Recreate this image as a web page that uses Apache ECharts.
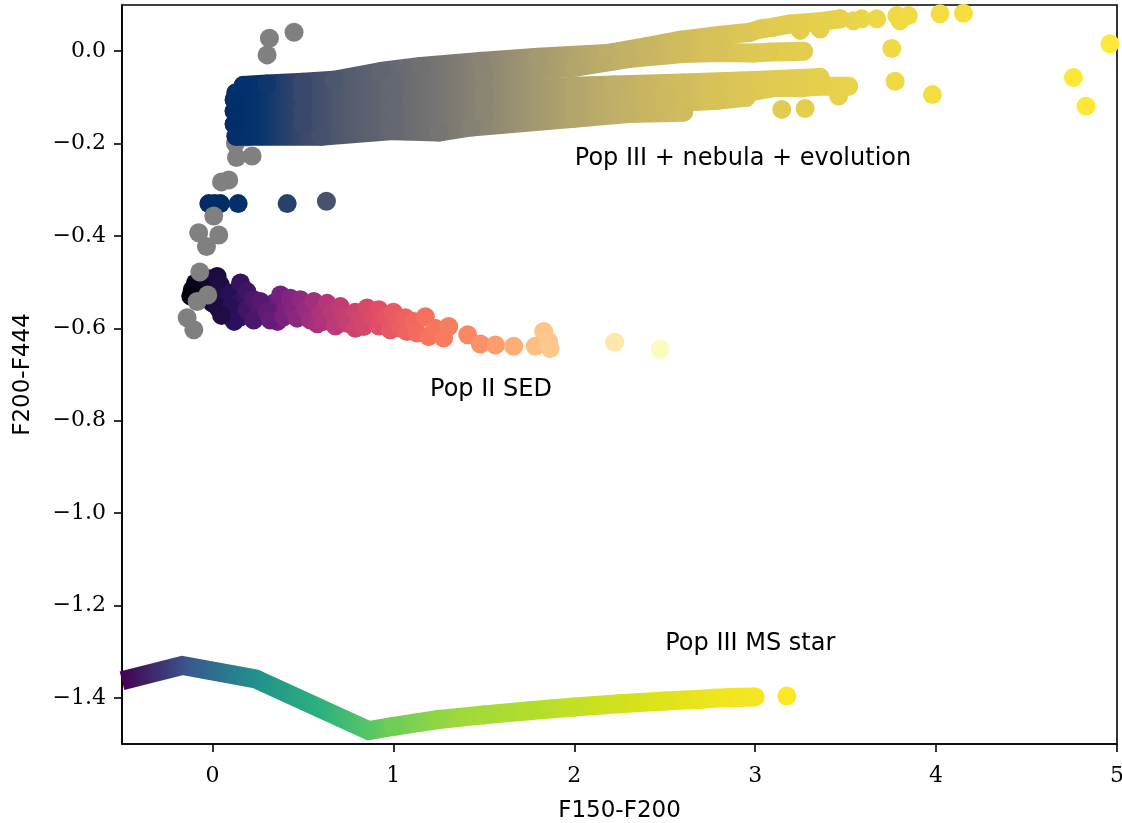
<!DOCTYPE html>
<html>
<head>
<meta charset="utf-8">
<script src="https://cdn.jsdelivr.net/npm/echarts@6.0.0/dist/echarts.min.js"></script>
<style>
  html, body { margin: 0; padding: 0; background: #fff; }
  #chart { width: 1122px; height: 823px; }
</style>
</head>
<body>
<div id="chart"></div>
<script>
// tick labels
const xTicks = [0, 1, 2, 3, 4, 5]
const yTicks = [0, -0.2, -0.4, -0.6, -0.8, -1.0, -1.2, -1.4]

// Pop III MS star track (viridis), dense part + lone end point
const msStar = [
  [-0.5, -1.363], [-0.167, -1.330], [0.238, -1.359], [0.864, -1.471],
  [1.0, -1.462], [1.25, -1.447], [1.5, -1.437], [1.75, -1.428], [2.0, -1.420],
  [2.25, -1.413], [2.5, -1.407], [2.70, -1.403], [2.77, -1.401], [2.844, -1.400],
  [2.917, -1.399], [3.0, -1.398]
]
const msStarTail = [[3.175, -1.396]]

// Pop II SED points (magma)
const popII = [
  [-0.112, -0.517], [-0.094, -0.502], [-0.12, -0.53], [-0.05, -0.535], [0.0, -0.545],
  [-0.029, -0.492], [0.026, -0.488], [0.007, -0.521], [0.044, -0.506], [0.062, -0.531],
  [0.099, -0.524], [0.155, -0.502], [0.081, -0.571], [0.146, -0.546], [0.155, -0.575],
  [0.03, -0.555], [0.10, -0.555], [0.12, -0.585], [0.05, -0.572], [0.19, -0.52],
  [0.19, -0.56], [0.26, -0.565], [0.34, -0.545], [0.36, -0.585], [0.41, -0.555],
  [0.228, -0.538], [0.228, -0.582], [0.265, -0.542], [0.302, -0.564], [0.320, -0.582],
  [0.376, -0.528], [0.394, -0.575], [0.431, -0.535], [0.449, -0.564], [0.468, -0.578],
  [0.486, -0.538], [0.52, -0.56], [0.541, -0.582], [0.560, -0.542], [0.58, -0.59],
  [0.597, -0.567], [0.615, -0.585], [0.634, -0.546], [0.66, -0.565], [0.68, -0.595],
  [0.707, -0.553], [0.72, -0.57], [0.744, -0.575], [0.744, -0.589], [0.79, -0.565],
  [0.79, -0.60], [0.82, -0.58], [0.836, -0.596], [0.855, -0.556], [0.891, -0.575],
  [0.92, -0.595], [0.92, -0.56], [0.947, -0.575], [0.965, -0.575], [0.983, -0.603],
  [1.0, -0.565], [1.020, -0.582], [1.04, -0.60], [1.066, -0.577], [1.076, -0.607],
  [1.112, -0.585], [1.131, -0.610], [1.177, -0.575], [1.195, -0.618], [1.23, -0.60],
  [1.278, -0.621], [1.306, -0.596], [1.411, -0.614], [1.481, -0.634], [1.564, -0.636],
  [1.665, -0.639], [1.785, -0.639], [1.831, -0.607], [1.858, -0.628], [1.867, -0.644],
  [2.223, -0.630], [2.475, -0.645]
]

// Pop III + nebula + evolution tracks (cividis)
const track1 = [
  [0.17, -0.074], [0.3, -0.071], [0.5, -0.067], [0.67, -0.063], [0.93, -0.044],
  [1.15, -0.033], [1.48, -0.022], [1.8, -0.013], [2.18, -0.005], [2.4, 0.010],
  [2.59, 0.024], [2.8, 0.034], [2.972, 0.041], [3.028, 0.048], [3.101, 0.052],
  [3.193, 0.059], [3.341, 0.063], [3.47, 0.070]
]
const track2 = [
  [0.13, -0.09], [0.5, -0.082], [1.0, -0.066], [1.5, -0.05], [2.0, -0.035],
  [2.3, -0.016], [2.6, -0.005], [2.8, -0.003], [2.991, -0.004], [3.074, -0.002],
  [3.184, -0.001], [3.267, 0.0]
]
const track3 = [
  [0.12, -0.105], [0.5, -0.10], [1.0, -0.095], [1.5, -0.088], [2.0, -0.076],
  [2.22, -0.073], [2.6, -0.069], [3.028, -0.063], [3.193, -0.060], [3.359, -0.057]
]
const track4 = [
  [0.12, -0.13], [0.5, -0.128], [1.0, -0.12], [1.5, -0.11], [2.0, -0.10],
  [2.5, -0.092], [2.954, -0.089], [3.12, -0.078], [3.249, -0.079], [3.341, -0.076],
  [3.516, -0.076]
]
const track5 = [
  [0.12, -0.158], [0.5, -0.157], [1.0, -0.148], [1.5, -0.136], [2.0, -0.124],
  [2.5, -0.112], [2.8, -0.106], [2.95, -0.10]
]
const track6 = [
  [0.13, -0.184], [0.6, -0.184], [1.0, -0.172], [1.25, -0.175], [1.43, -0.164],
  [2.0, -0.145], [2.3, -0.135], [2.604, -0.132]
]
const popIIISparse = [
  [3.249, 0.045], [3.359, 0.048], [3.543, 0.066], [3.589, 0.070], [3.672, 0.070],
  [3.783, 0.077], [3.801, 0.066], [3.847, 0.077], [4.022, 0.081], [4.151, 0.082],
  [3.755, 0.006], [4.961, 0.016], [3.773, -0.065], [4.759, -0.057], [3.461, -0.097],
  [3.98, -0.094], [4.829, -0.119], [3.147, -0.126], [3.276, -0.124],
  [-0.020, -0.330], [0.012, -0.330], [0.044, -0.330], [0.142, -0.330], [0.413, -0.330],
  [0.630, -0.325]
]

// grey points
const greyPts = [
  [0.451, 0.041], [0.315, 0.028], [0.302, -0.008], [0.243, -0.101], [0.192, -0.186],
  [0.127, -0.200], [0.219, -0.227], [0.133, -0.230], [0.090, -0.279], [0.050, -0.283],
  [0.007, -0.357], [-0.076, -0.393], [0.035, -0.398], [-0.033, -0.423], [-0.070, -0.478],
  [-0.026, -0.528], [-0.085, -0.542], [-0.140, -0.577], [-0.103, -0.603]
]

// annotations
const annTexts = ['Pop III + nebula + evolution', 'Pop II SED', 'Pop III MS star']
const annX = [2.0, 1.2, 2.5]
const annY = [-0.25, -0.75, -1.3]

const viridis = ['#440154', '#38598c', '#21918c', '#2db27d', '#6ccd5a', '#9dd93b',
  '#b0dd2f', '#c8e020', '#dce319', '#f0e51f', '#fde725']
const magma = ['#000004', '#2a115c', '#761f80', '#b73779', '#e04c67', '#f5715c',
  '#fc8a62', '#feb37a', '#fed597', '#fde9aa', '#fcfdbf']
const cividis = ['#00224e', '#002c66', '#05336e', '#3a486b', '#545c6e', '#656870',
  '#777572', '#8b8573', '#a09670', '#b3a56c', '#c1b066', '#cdb960', '#d6c159',
  '#dec853', '#e3cd4e', '#e8d34a', '#efd945', '#f3dd40', '#f7e13c', '#fae43a',
  '#fde738', '#fee838']

const SIZE = 19
const lineTrack = data => ({
  type: 'line',
  data: data,
  symbol: 'circle',
  symbolSize: SIZE,
  showSymbol: true,
  itemStyle: { opacity: 1 },
  lineStyle: { width: SIZE, cap: 'round', join: 'round', opacity: 1 },
  emphasis: { disabled: true },
  silent: true
})
const dots = data => ({
  type: 'scatter',
  data: data,
  symbolSize: SIZE,
  itemStyle: { opacity: 1 },
  emphasis: { disabled: true },
  silent: true
})

// the MS star stroke is a plain band with mitred corners; circles only at its dotted end
const msLine = Object.assign(lineTrack(msStar.map((p, i) => i < 4 ? { value: p, symbol: 'none' } : p)), {
  lineStyle: { width: SIZE, cap: 'butt', join: 'miter', opacity: 1 }
})

const chart = echarts.init(document.getElementById('chart'))
const axisText = { fontFamily: 'DejaVu Serif', fontSize: 22, color: '#000' }
const nameText = { fontFamily: 'DejaVu Sans', fontSize: 23, color: '#000' }

chart.setOption({
  animation: false,
  backgroundColor: '#fff',
  grid: {
    left: 122, right: 5, top: 5, bottom: 79,
    outerBoundsMode: 'none',
    containLabel: false,
    show: true, borderColor: '#000', borderWidth: 1.6
  },
  xAxis: {
    type: 'value',
    min: -0.5, max: 5,
    name: 'F150-F200',
    nameLocation: 'middle',
    nameGap: 56,
    nameTextStyle: nameText,
    splitLine: { show: false },
    axisLine: { show: true, onZero: false, lineStyle: { color: '#000', width: 1.6 } },
    axisTick: { show: true, length: 8, customValues: xTicks, lineStyle: { color: '#000', width: 1.6 } },
    axisLabel: { customValues: xTicks, margin: 21, ...axisText, formatter: v => String(v) }
  },
  yAxis: {
    type: 'value',
    min: -1.5, max: 0.1,
    name: 'F200-F444',
    nameLocation: 'middle',
    nameGap: 87,
    nameTextStyle: nameText,
    splitLine: { show: false },
    axisLine: { show: true, onZero: false, lineStyle: { color: '#000', width: 1.6 } },
    axisTick: { show: true, length: 8, customValues: yTicks, lineStyle: { color: '#000', width: 1.6 } },
    axisLabel: {
      customValues: yTicks, margin: 16, ...axisText,
      formatter: v => (v < -1e-9 ? '\u2212' : '') + Math.abs(v).toFixed(1)
    }
  },
  visualMap: [
    { type: 'continuous', show: false, dimension: 0, seriesIndex: [0, 1],
      min: -0.5, max: 3.2, inRange: { color: viridis } },
    { type: 'continuous', show: false, dimension: 0, seriesIndex: [2],
      min: -0.15, max: 2.5, inRange: { color: magma } },
    { type: 'continuous', show: false, dimension: 0, seriesIndex: [3, 4, 5, 6, 7, 8, 9],
      min: -0.25, max: 5, inRange: { color: cividis } }
  ],
  series: [
    msLine,
    dots(msStarTail),
    dots(popII),
    lineTrack(track6),
    lineTrack(track5),
    lineTrack(track4),
    lineTrack(track3),
    lineTrack(track2),
    lineTrack(track1),
    dots(popIIISparse),
    Object.assign(dots(greyPts), { itemStyle: { color: '#808080', opacity: 1 } }),
    {
      type: 'scatter',
      symbolSize: 1,
      itemStyle: { color: 'rgba(0,0,0,0)' },
      silent: true,
      data: annTexts.map((t, i) => ({ name: t, value: [annX[i], annY[i]] })),
      label: {
        show: true,
        position: 'right',
        distance: 0,
        offset: [0, -8],
        align: 'left',
        verticalAlign: 'middle',
        formatter: p => p.name,
        fontFamily: 'DejaVu Sans',
        fontSize: 24,
        color: '#000',
        opacity: 1
      }
    }
  ]
})
</script>
</body>
</html>
